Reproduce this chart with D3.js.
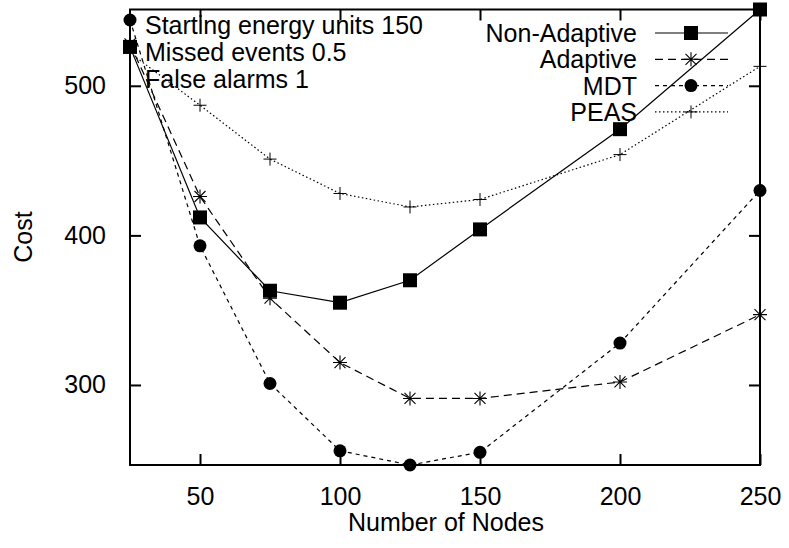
<!DOCTYPE html>
<html><head><meta charset="utf-8">
<script src="https://cdn.jsdelivr.net/npm/d3@7"></script>
<style>
body{margin:0;background:#fff;}
text{font-family:"Liberation Sans",Arial,Helvetica,sans-serif;font-size:25px;fill:#000;}
</style></head>
<body>
<svg id="c" width="789" height="548"></svg>
<script>
const nodes = [25, 50, 75, 100, 125, 150, 200, 250];
const nonAdaptive = [526, 412, 363, 355, 370, 404, 471, 551];
const adaptive    = [528, 426, 358, 315, 291, 291, 302, 347];
const mdt         = [544, 393, 301, 256, 246.5, 255, 328, 430];
const peas        = [522, 487, 451, 428, 419, 424, 454, 513];
const xTicks = [50, 100, 150, 200, 250];
const yTicks = [300, 400, 500];
const seriesNames = ["Non-Adaptive", "Adaptive", "MDT", "PEAS"];
const notes = ["Starting energy units 150", "Missed events 0.5", "False alarms 1"];

const series = [
  {name: seriesNames[0], values: nonAdaptive, dash: null, marker: "square"},
  {name: seriesNames[1], values: adaptive, dash: "8,5", marker: "star"},
  {name: seriesNames[2], values: mdt, dash: "4,4", marker: "circle"},
  {name: seriesNames[3], values: peas, dash: "1.5,2.5", marker: "plus"}
];

const svg = d3.select("#c");
const L = 130, R = 760, T = 9.5, B = 465;
const x = d3.scaleLinear().domain(d3.extent(nodes)).range([L, R]);
const all = [].concat(nonAdaptive, adaptive, mdt, peas);
const y = d3.scaleLinear().domain(d3.extent(all)).range([B, T]);

const gx = svg.append("g").attr("transform", `translate(0,${B})`)
  .call(d3.axisBottom(x).tickValues(xTicks).tickSize(-11).tickPadding(22).tickFormat(d3.format("d")));
const gxt = svg.append("g").attr("transform", `translate(0,${T})`)
  .call(d3.axisTop(x).tickValues(xTicks).tickSize(-11).tickFormat(""));
const gy = svg.append("g").attr("transform", `translate(${L},0)`)
  .call(d3.axisLeft(y).tickValues(yTicks).tickSize(-11).tickPadding(24).tickFormat(d3.format("d")));
const gyr = svg.append("g").attr("transform", `translate(${R},0)`)
  .call(d3.axisRight(y).tickValues(yTicks).tickSize(-11).tickFormat(""));
[gx, gxt, gy, gyr].forEach(g => {
  g.select(".domain").remove();
  g.selectAll(".tick line").attr("stroke", "#000").attr("stroke-width", 2);
  g.selectAll("text").attr("font-size", 25).attr("font-family", '"Liberation Sans",Arial,sans-serif').attr("fill", "#000");
});
gx.selectAll("text").attr("dy", "0.71em");

svg.append("rect").attr("x", L).attr("y", T).attr("width", R - L).attr("height", B - T)
  .attr("fill", "none").attr("stroke", "#000").attr("stroke-width", 2);

svg.append("text").attr("x", 446).attr("y", 531).attr("text-anchor", "middle").text("Number of Nodes");
svg.append("text").attr("transform", "translate(32,237) rotate(-90)").attr("text-anchor", "middle").text("Cost");
svg.append("text").attr("x", 222).attr("y", 569).attr("text-anchor", "middle").text("(a)");

notes.forEach((t, i) => {
  svg.append("text").attr("x", 145).attr("y", 34 + i * 27).attr("font-size", 25.8).text(t);
});

function drawMarker(g, type, cx, cy) {
  if (type === "square") {
    g.append("rect").attr("x", cx - 7).attr("y", cy - 7).attr("width", 14).attr("height", 14).attr("fill", "#000");
  } else if (type === "circle") {
    g.append("circle").attr("cx", cx).attr("cy", cy).attr("r", 6.5).attr("fill", "#000");
  } else if (type === "star") {
    const s = 7, d = 5.5;
    g.append("path").attr("d", `M${cx - s},${cy}H${cx + s}M${cx},${cy - s}V${cy + s}M${cx - d},${cy - d}L${cx + d},${cy + d}M${cx - d},${cy + d}L${cx + d},${cy - d}`)
      .attr("stroke", "#000").attr("stroke-width", 1.1).attr("fill", "none");
  } else if (type === "plus") {
    const s = 6.5;
    g.append("path").attr("d", `M${cx - s},${cy}H${cx + s}M${cx},${cy - s}V${cy + s}`)
      .attr("stroke", "#000").attr("stroke-width", 1).attr("fill", "none");
  }
}

const line = d3.line().x((d, i) => x(nodes[i])).y(d => y(d));
series.forEach(s => {
  svg.append("path").datum(s.values).attr("d", line).attr("fill", "none")
    .attr("stroke", "#000").attr("stroke-width", 1.2)
    .attr("stroke-dasharray", s.dash);
  const g = svg.append("g");
  s.values.forEach((v, i) => drawMarker(g, s.marker, x(nodes[i]), y(v)));
});

series.forEach((s, i) => {
  const ly = 33 + i * 26.3;
  svg.append("text").attr("x", 637).attr("y", ly + 9).attr("text-anchor", "end").attr("font-size", 25.5).text(s.name);
  svg.append("line").attr("x1", 655).attr("x2", 728).attr("y1", ly).attr("y2", ly)
    .attr("stroke", "#000").attr("stroke-width", 1.2).attr("stroke-dasharray", s.dash);
  drawMarker(svg.append("g"), s.marker, 691, ly);
});
</script>
</body></html>
